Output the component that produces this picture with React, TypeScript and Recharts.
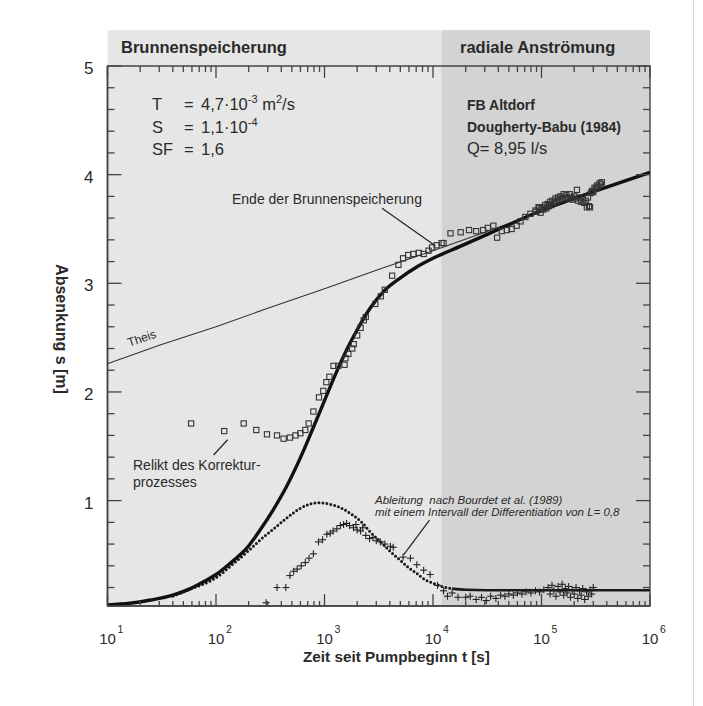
import React from "react";
import {
  ComposedChart,
  Line,
  Scatter,
  XAxis,
  YAxis,
  ReferenceArea,
  ReferenceLine,
} from "recharts";

type Pt = [number, number];

// Theis type curve (thin line)
const theisCurve: Pt[] = [
  [10, 2.26], [30, 2.43], [100, 2.6], [300, 2.77], [1000, 2.95],
  [3000, 3.12], [10000, 3.3], [30000, 3.47], [100000, 3.66],
  [300000, 3.84], [1000000, 4.02],
];

// Dougherty-Babu fit (thick line)
const modelCurve: Pt[] = [
  [10, 0.04], [16, 0.055], [25, 0.085], [40, 0.13], [58, 0.19], [79, 0.26],
  [100, 0.32], [141, 0.44], [195, 0.57], [251, 0.72], [339, 0.92],
  [447, 1.13], [603, 1.4], [794, 1.68], [1000, 1.92], [1259, 2.16],
  [1585, 2.38], [1995, 2.57], [2630, 2.77], [3548, 2.93], [5012, 3.05],
  [7079, 3.15], [10000, 3.23], [17783, 3.34], [31623, 3.45], [100000, 3.67],
  [316228, 3.85], [1000000, 4.02],
];

// Bourdet derivative of the fit (dotted, then a flat tail)
const modelDerivative: Pt[] = [
  [40, 0.12], [60, 0.19], [100, 0.29], [145, 0.42], [200, 0.54], [257, 0.64],
  [340, 0.74], [450, 0.84], [600, 0.93], [850, 0.98], [1200, 0.96],
  [1500, 0.92], [1800, 0.87], [2260, 0.79], [2650, 0.71], [3300, 0.62],
  [4050, 0.53], [5000, 0.45], [6000, 0.38], [7100, 0.33], [8500, 0.27],
  [10000, 0.24], [12000, 0.21], [15000, 0.19],
];
const modelDerivativeTail: Pt[] = [
  [15000, 0.19], [20000, 0.18], [50000, 0.175], [100000, 0.175],
  [1000000, 0.175],
];

// measured drawdown (squares)
const measured: Pt[] = [
  [59, 1.71], [119, 1.64], [180, 1.71], [235, 1.65], [295, 1.61], [365, 1.6],
  [420, 1.57], [480, 1.58], [540, 1.6], [600, 1.62], [665, 1.65], [715, 1.71],
  [790, 1.82], [890, 1.95], [975, 2.01], [1040, 2.09], [1110, 2.14],
  [1210, 2.24], [1340, 2.24], [1530, 2.25], [1560, 2.31], [1660, 2.35],
  [1800, 2.4], [1860, 2.44], [2000, 2.52], [2150, 2.59], [2300, 2.66],
  [2400, 2.69], [2940, 2.81], [3300, 2.88], [3600, 2.94], [4200, 3.07],
  [4800, 3.17], [5300, 3.23], [5900, 3.26], [6600, 3.27], [7400, 3.28],
  [8200, 3.27], [9100, 3.3], [9800, 3.33], [10800, 3.35], [12000, 3.37],
  [12500, 3.37], [14500, 3.46], [18000, 3.47], [21500, 3.49], [25000, 3.48],
  [29000, 3.49], [32000, 3.51], [36000, 3.53], [39000, 3.42], [43000, 3.48],
  [48000, 3.49], [53000, 3.5], [59000, 3.53], [64000, 3.57], [71000, 3.61],
  [79000, 3.64], [88000, 3.67], [94000, 3.7], [100000, 3.68],
];

// late-time measured drawdown, densely logged
const measuredLate: Pt[] = [
  [90000, 3.66], [95000, 3.69], [98000, 3.65], [102000, 3.7], [105000, 3.68],
  [108000, 3.72], [111000, 3.69], [114000, 3.73], [117000, 3.71],
  [120000, 3.75], [123000, 3.72], [126000, 3.76], [130000, 3.74],
  [134000, 3.78], [138000, 3.75], [142000, 3.79], [146000, 3.77],
  [150000, 3.8], [155000, 3.78], [160000, 3.82], [165000, 3.79],
  [170000, 3.81], [176000, 3.78], [182000, 3.82], [188000, 3.79],
  [194000, 3.77], [200000, 3.8], [206000, 3.78], [212000, 3.86],
  [218000, 3.76], [225000, 3.79], [232000, 3.75], [240000, 3.77],
  [248000, 3.74], [256000, 3.76], [262000, 3.7], [268000, 3.79],
  [274000, 3.71], [280000, 3.7], [285000, 3.83], [292000, 3.85],
  [300000, 3.84], [308000, 3.88], [316000, 3.87], [325000, 3.9],
  [334000, 3.89], [343000, 3.92], [352000, 3.91], [360000, 3.93],
];

// measured derivative (crosses)
const derivMeasured: Pt[] = [
  [290, 0.06], [365, 0.2], [440, 0.2], [480, 0.31], [520, 0.35], [560, 0.37],
  [610, 0.4], [665, 0.43], [720, 0.47], [790, 0.51], [880, 0.62], [960, 0.64],
  [1050, 0.69], [1130, 0.7], [1200, 0.72], [1300, 0.74], [1400, 0.77],
  [1500, 0.78], [1600, 0.79], [1700, 0.77], [1850, 0.75], [1950, 0.78],
  [2000, 0.73], [2150, 0.72], [2250, 0.75], [2400, 0.68], [2600, 0.65],
  [2800, 0.66], [3000, 0.63], [3270, 0.62], [3600, 0.6], [4050, 0.58],
  [4300, 0.57], [5300, 0.48], [6200, 0.47], [7100, 0.41], [8200, 0.36],
  [9400, 0.32], [11000, 0.22], [12500, 0.17], [13600, 0.12], [15000, 0.15],
  [17000, 0.11], [20000, 0.11], [22000, 0.12], [25000, 0.09], [28000, 0.11],
  [31000, 0.08], [34000, 0.12], [38000, 0.1], [42000, 0.13], [46000, 0.12],
  [50000, 0.14], [55000, 0.13], [60000, 0.15], [66000, 0.14], [72000, 0.16],
  [80000, 0.15], [88000, 0.17], [96000, 0.16], [105000, 0.18],
  [115000, 0.2], [120000, 0.14], [125000, 0.22], [130000, 0.17],
  [136000, 0.12], [142000, 0.21], [148000, 0.16], [155000, 0.23],
  [160000, 0.13], [166000, 0.19], [172000, 0.15], [178000, 0.21],
  [185000, 0.11], [192000, 0.18], [200000, 0.14], [208000, 0.2],
  [216000, 0.1], [224000, 0.17], [232000, 0.13], [240000, 0.19],
  [250000, 0.09], [260000, 0.16], [270000, 0.12], [280000, 0.18],
  [290000, 0.14], [300000, 0.2],
];

const xMajor = [10, 100, 1000, 10000, 100000, 1000000];
const yMajor = [1, 2, 3, 4, 5];
const phaseSplit = 12000;

const xTicks: number[] = [];
xMajor.slice(0, -1).forEach((d) => {
  for (let k = 1; k < 10; k++) xTicks.push(k * d);
});
xTicks.push(1000000);
const yTicks = Array.from({ length: 25 }, (_, i) => +((i + 1) * 0.2).toFixed(1));

const toRows = (pts: Pt[]) => pts.map(([t, v]) => ({ t, v }));

const FONT = "'Liberation Sans', Arial, Helvetica, sans-serif";
const INK = "#2a2a2a";
const AXIS = "#444";

// chart layout
const W = 703;
const H = 706;
const M = { top: 66, right: 53, bottom: 40, left: 47.5 };
const Y_AXIS_W = 60;
const X_AXIS_H = 60;
const PLOT_W = W - M.left - M.right - Y_AXIS_W;
const PLOT_H = H - M.top - M.bottom - X_AXIS_H;

// bottom ticks, mirrored onto the top edge of the frame
function XTick(props: any) {
  const { x, y, payload } = props;
  const major = xMajor.includes(payload.value);
  const exp = Math.round(Math.log10(payload.value));
  const top = y - PLOT_H;
  return (
    <g>
      <line x1={x} x2={x} y1={y} y2={y - (major ? 12 : 5)} stroke={AXIS} strokeWidth={1.3} />
      <line x1={x} x2={x} y1={top} y2={top + (major ? 12 : 6)} stroke={AXIS} strokeWidth={1.3} />
      {major && (
        <>
          <text x={x} y={y + 37.5} textAnchor="middle" fontSize={15} fill={INK} fontFamily={FONT}>
            10
          </text>
          <text x={x + 10} y={y + 27} fontSize={10.5} fill={INK} fontFamily={FONT}>
            {exp}
          </text>
        </>
      )}
    </g>
  );
}

// left ticks, mirrored onto the right edge of the frame
function YTick(props: any) {
  const { x, y, payload } = props;
  const major = yMajor.includes(payload.value);
  const len = major ? 14 : 7;
  const right = x + PLOT_W;
  return (
    <g>
      <line x1={x} x2={x + len} y1={y} y2={y} stroke={AXIS} strokeWidth={1.3} />
      <line x1={right} x2={right - len} y1={y} y2={y} stroke={AXIS} strokeWidth={1.3} />
      {major && (
        <text x={x - 14} y={y + 8} textAnchor="end" fontSize={17} fill={INK} fontFamily={FONT}>
          {payload.value}
        </text>
      )}
    </g>
  );
}

const squareShape = (p: any) => (
  <rect x={p.cx - 2.6} y={p.cy - 2.6} width={5.2} height={5.2} fill="none" stroke="#333" strokeWidth={1.1} />
);

const crossShape = (p: any) => (
  <g stroke="#222" strokeWidth={1.1}>
    <line x1={p.cx - 3.5} x2={p.cx + 3.5} y1={p.cy} y2={p.cy} />
    <line x1={p.cx} x2={p.cx} y1={p.cy - 3.5} y2={p.cy + 3.5} />
  </g>
);

function Label({
  left,
  top,
  size,
  bold,
  italic,
  children,
  style,
}: {
  left: number;
  top: number;
  size: number;
  bold?: boolean;
  italic?: boolean;
  children: React.ReactNode;
  style?: React.CSSProperties;
}) {
  return (
    <div
      style={{
        position: "absolute",
        left,
        top: top - size * 0.49,
        fontSize: size,
        lineHeight: 1,
        fontWeight: bold ? "bold" : "normal",
        fontStyle: italic ? "italic" : "normal",
        fontFamily: FONT,
        color: INK,
        whiteSpace: "nowrap",
        ...style,
      }}
    >
      {children}
    </div>
  );
}

const sup: React.CSSProperties = { fontSize: 11, position: "relative", top: -7 };

export default function App() {
  return (
    <div style={{ position: "absolute", left: 0, top: 0, width: W, height: H, background: "#fff" }}>
      <ComposedChart width={W} height={H} margin={M}>
        <ReferenceArea x1={10} x2={1000000} y1={0.03} y2={5.33} ifOverflow="visible" fill="#e6e6e6" fillOpacity={1} stroke="none" />
        <ReferenceArea x1={phaseSplit} x2={1000000} y1={0.03} y2={5.33} ifOverflow="visible" fill="#d3d3d3" fillOpacity={1} stroke="none" />

        <ReferenceLine segment={[{ x: 3390, y: 3.69 }, { x: 10500, y: 3.345 }]} stroke="#222" strokeWidth={1.2} ifOverflow="visible" />
        <ReferenceLine segment={[{ x: 95, y: 1.42 }, { x: 128, y: 1.56 }]} stroke="#222" strokeWidth={1.2} ifOverflow="visible" />
        <ReferenceLine segment={[{ x: 9290, y: 0.82 }, { x: 5360, y: 0.5 }]} stroke="#222" strokeWidth={1.2} ifOverflow="visible" />

        <Line data={toRows(theisCurve)} dataKey="v" type="linear" stroke="#333" strokeWidth={1.1} dot={false} isAnimationActive={false} />
        <Scatter data={toRows(measured)} shape={squareShape} isAnimationActive={false} />
        <Scatter data={toRows(measuredLate)} shape={squareShape} isAnimationActive={false} />
        <Scatter data={toRows(derivMeasured)} shape={crossShape} isAnimationActive={false} />
        <Line
          data={toRows(modelDerivative)}
          dataKey="v"
          type="monotone"
          stroke="#1a1a1a"
          strokeWidth={3}
          strokeDasharray="0 4"
          strokeLinecap="round"
          dot={false}
          isAnimationActive={false}
        />
        <Line data={toRows(modelDerivativeTail)} dataKey="v" type="monotone" stroke="#1a1a1a" strokeWidth={2.6} dot={false} isAnimationActive={false} />
        <Line data={toRows(modelCurve)} dataKey="v" type="monotone" stroke="#111" strokeWidth={3.4} dot={false} isAnimationActive={false} />

        {/* plot frame */}
        <ReferenceArea x1={10} x2={1000000} y1={0.03} y2={5} ifOverflow="visible" fill="none" stroke={AXIS} strokeWidth={1.4} />

        <XAxis
          dataKey="t"
          type="number"
          scale="log"
          domain={[10, 1000000]}
          allowDataOverflow
          ticks={xTicks}
          interval={0}
          tickSize={0}
          tickMargin={0}
          height={X_AXIS_H}
          tick={<XTick />}
          axisLine={{ stroke: AXIS, strokeWidth: 1.6 }}
        />
        <YAxis
          dataKey="v"
          type="number"
          domain={[0.03, 5]}
          allowDataOverflow
          ticks={yTicks}
          interval={0}
          tickSize={0}
          tickMargin={0}
          width={Y_AXIS_W}
          tick={<YTick />}
          axisLine={{ stroke: AXIS, strokeWidth: 1.6 }}
        />
      </ComposedChart>

      {/* page edge line */}
      <div style={{ position: "absolute", left: 693, top: 0, width: 1, height: H, background: "#d4d4d4" }} />

      <Label left={121} top={47} size={16.5} bold>Brunnenspeicherung</Label>
      <Label left={460} top={47} size={16.5} bold>radiale Anströmung</Label>

      <Label left={152} top={104} size={16.5}>T</Label>
      <Label left={184} top={104} size={16.5}>=</Label>
      <Label left={201} top={104} size={16.5}>
        4,7·10<span style={sup}>-3</span> m<span style={sup}>2</span>/s
      </Label>
      <Label left={152} top={127} size={16.5}>S</Label>
      <Label left={184} top={127} size={16.5}>=</Label>
      <Label left={201} top={127} size={16.5}>
        1,1·10<span style={sup}>-4</span>
      </Label>
      <Label left={152} top={149} size={16.5}>SF</Label>
      <Label left={184} top={149} size={16.5}>=</Label>
      <Label left={201} top={149} size={16.5}>1,6</Label>

      <Label left={467} top={105} size={14} bold>FB Altdorf</Label>
      <Label left={467} top={127} size={14} bold>Dougherty-Babu (1984)</Label>
      <Label left={467} top={148} size={16.5}>Q= 8,95 l/s</Label>

      <Label left={232} top={199} size={14}>Ende der Brunnenspeicherung</Label>
      <Label left={128} top={343} size={12} style={{ transform: "rotate(-19deg)", transformOrigin: "left center" }}>
        Theis
      </Label>
      <Label left={133} top={465} size={14}>Relikt des Korrektur-</Label>
      <Label left={133} top={482} size={14}>prozesses</Label>

      <Label left={375} top={501} size={11.5} italic>Ableitung&nbsp;&nbsp;nach Bourdet et al. (1989)</Label>
      <Label left={375} top={513} size={11.5} italic>mit einem Intervall der Differentiation von L= 0,8</Label>

      <Label left={303} top={656} size={15.3} bold>Zeit seit Pumpbeginn t [s]</Label>
      <div
        style={{
          position: "absolute",
          left: 61,
          top: 329,
          transform: "translate(-50%, -50%) rotate(90deg)",
          fontSize: 16,
          lineHeight: 1,
          fontWeight: "bold",
          fontFamily: FONT,
          color: INK,
          whiteSpace: "nowrap",
        }}
      >
        Absenkung s [m]
      </div>
    </div>
  );
}
